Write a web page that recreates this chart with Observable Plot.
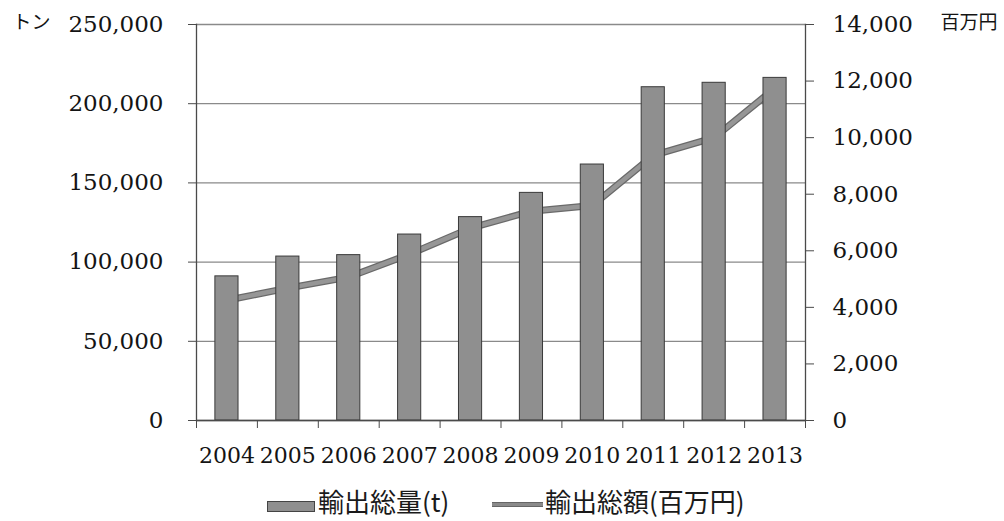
<!DOCTYPE html>
<html>
<head>
<meta charset="utf-8">
<script src="https://cdn.jsdelivr.net/npm/d3@7"></script>
<script src="https://cdn.jsdelivr.net/npm/@observablehq/plot@0.6"></script>
<style>
  html, body { margin: 0; padding: 0; background: #fff; }
  #chart { position: relative; width: 1004px; height: 521px; overflow: hidden; }
  #legend { position: absolute; left: 0; top: 480px; width: 1004px; height: 41px;
            font-family: "Noto Sans CJK JP", sans-serif; color: #1a1a1a; }
  #legend .item { position: absolute; top: 0; height: 41px; display: flex; align-items: center; }
  #legend .bar-swatch { width: 48px; height: 11px; background: #8f8f8f; border: 1px solid #444;
                        box-sizing: border-box; margin-top: 12px; margin-right: 3px; }
  #legend .line-swatch { width: 51px; height: 5px; background: #8a8a8a; border-top: 1px solid #666;
                         border-bottom: 1px solid #666; box-sizing: border-box; margin-top: 8px; margin-right: 2px; }
  #legend .label { font-size: 26px; line-height: 41px; }
</style>
</head>
<body>
<div id="chart"></div>
<script>
// Years on the category axis
const years = ["2004", "2005", "2006", "2007", "2008", "2009", "2010", "2011", "2012", "2013"];
// Total export volume (tonnes), left axis
const exportVolume = [91000, 103500, 104400, 117400, 128400, 143700, 161600, 210400, 213200, 216300];
// Total export value (million yen), right axis
const exportValue = [4250, 4680, 5070, 5880, 6800, 7400, 7600, 9370, 10000, 11750];
// Axis ticks
const volumeTicks = [0, 50000, 100000, 150000, 200000, 250000];
const valueTicks = [0, 2000, 4000, 6000, 8000, 10000, 12000, 14000];
const volumeMax = 250000;
const valueMax = 14000;
// Series names and unit labels
const seriesNames = ["輸出総量(t)", "輸出総額(百万円)"];
const volumeUnit = "トン";
const valueUnit = "百万円";

// The value series shares the plot's y scale after rescaling to the volume range
const k = volumeMax / valueMax;
const rows = years.map((year, i) => ({
  year,
  volume: exportVolume[i],
  value: exportValue[i],
  valueScaled: exportValue[i] * k
}));

const width = 1004, height = 480;
const marginLeft = 196, marginRight = 199, marginTop = 24, marginBottom = 60;
const step = (width - marginLeft - marginRight) / years.length;
const fmt = d3.format(",");
const ink = "#141414";
const axisInk = "#4a4a4a";

const chart = Plot.plot({
  width, height, marginLeft, marginRight, marginTop, marginBottom,
  style: { fontFamily: "'DejaVu Serif', serif", fontSize: "23px", color: ink, background: "#fff" },
  x: { domain: years, paddingInner: 0.62, paddingOuter: 0.31, round: false, label: null },
  y: { domain: [0, volumeMax], label: null },
  marks: [
    // horizontal gridlines
    Plot.ruleY(volumeTicks, { stroke: "#8a8a8a", strokeWidth: 1.3 }),
    // left axis (tonnes)
    Plot.axisY({ ticks: volumeTicks, tickFormat: fmt, tickSize: 8, tickPadding: 25, stroke: axisInk, label: null }),
    // right axis (million yen)
    Plot.axisY({ anchor: "right", ticks: valueTicks.map(v => v * k), tickFormat: v => fmt(Math.round(v / k)),
                 tickSize: 8, tickPadding: 19, stroke: axisInk, label: null }),
    // year labels
    Plot.axisX({ tickSize: 0, tickPadding: 27, fontSize: 22, label: null }),
    // category boundary ticks under the baseline
    Plot.axisX(years, { tickSize: 8, dx: step / 2, tickFormat: () => "", stroke: axisInk, label: null }),
    Plot.axisX([years[0]], { tickSize: 8, dx: -step / 2, tickFormat: () => "", stroke: axisInk, label: null }),
    // value line (drawn under the bars)
    Plot.line(rows, { x: "year", y: "valueScaled", stroke: "#6a6a6a", strokeWidth: 7 }),
    Plot.line(rows, { x: "year", y: "valueScaled", stroke: "#969696", strokeWidth: 4.5 }),
    // volume bars
    Plot.barY(rows, { x: "year", y: "volume", fill: "#8f8f8f", stroke: "#3a3a3a", strokeWidth: 1 }),
    // frame lines
    Plot.frame({ anchor: "left", stroke: axisInk, strokeWidth: 1.3 }),
    Plot.frame({ anchor: "right", stroke: axisInk, strokeWidth: 1.3 }),
    Plot.ruleY([0], { stroke: axisInk, strokeWidth: 1.3 }),
    // unit labels
    Plot.text([volumeUnit], { text: d => d, frameAnchor: "top-left", dx: -184, dy: -2, textAnchor: "start",
                              lineAnchor: "middle", fontFamily: "'Noto Sans CJK JP', sans-serif",
                              fontSize: 19, letterSpacing: 3 }),
    Plot.text([valueUnit], { text: d => d, frameAnchor: "top-right", dx: 135, dy: -2, textAnchor: "start",
                             lineAnchor: "middle", fontFamily: "'Noto Sans CJK JP', sans-serif",
                             fontSize: 19, letterSpacing: 1 })
  ]
});

const root = document.getElementById("chart");
root.appendChild(chart);

// legend below the chart
const legend = document.createElement("div");
legend.id = "legend";
legend.innerHTML = `
  <div class="item" style="left:267px"><span class="bar-swatch"></span><span class="label">${seriesNames[0]}</span></div>
  <div class="item" style="left:492px"><span class="line-swatch"></span><span class="label">${seriesNames[1]}</span></div>`;
root.appendChild(legend);
</script>
</body>
</html>
